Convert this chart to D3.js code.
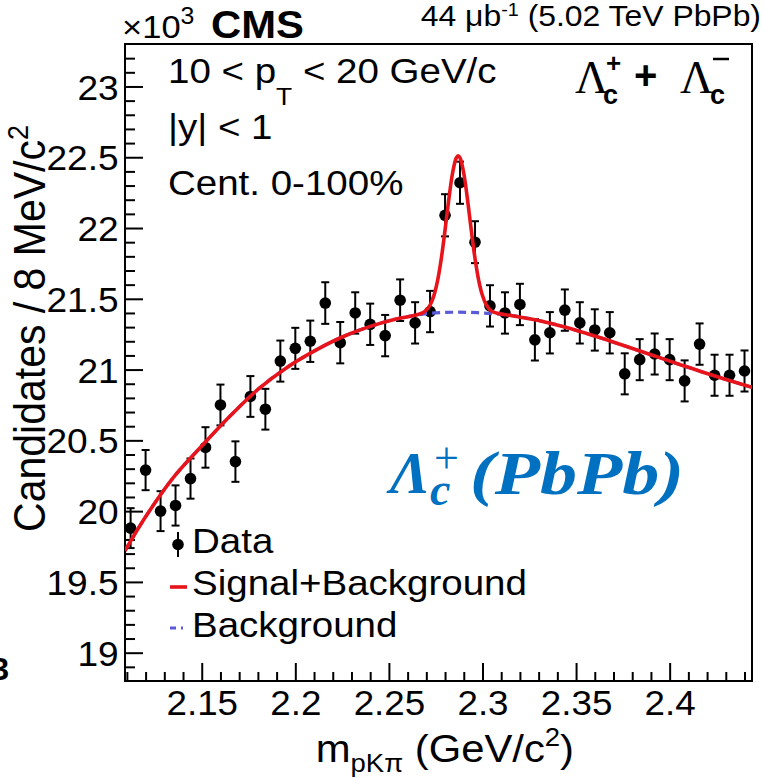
<!DOCTYPE html>
<html><head><meta charset="utf-8">
<script src="https://cdn.jsdelivr.net/npm/d3@7"></script>
<style>html,body{margin:0;padding:0;background:#fff;} svg{display:block}</style>
</head><body>
<script>
// ---------- data (values in units of 10^3 candidates) ----------
const massCenters = [2.112, 2.120, 2.128, 2.136, 2.144, 2.152, 2.160, 2.168, 2.176, 2.184,
  2.192, 2.200, 2.208, 2.216, 2.224, 2.232, 2.240, 2.248, 2.256, 2.264,
  2.272, 2.280, 2.288, 2.296, 2.304, 2.312, 2.320, 2.328, 2.336, 2.344,
  2.352, 2.360, 2.368, 2.376, 2.384, 2.392, 2.400, 2.408, 2.416, 2.424,
  2.432, 2.440];
const candidates = [19.88, 20.29, 20.00, 20.04, 20.23, 20.45, 20.75, 20.35, 20.81, 20.72,
  21.06, 21.15, 21.20, 21.47, 21.19, 21.40, 21.32, 21.24, 21.49, 21.33,
  21.41, 22.09, 22.32, 21.90, 21.45, 21.40, 21.46, 21.21, 21.26, 21.42,
  21.33, 21.28, 21.26, 20.97, 21.07, 21.11, 21.07, 20.92, 21.18, 20.96,
  20.96, 20.99];
const errors = [0.141, 0.142, 0.141, 0.142, 0.142, 0.143, 0.144, 0.143, 0.144, 0.144,
  0.145, 0.145, 0.146, 0.147, 0.146, 0.146, 0.146, 0.146, 0.147, 0.146,
  0.146, 0.149, 0.149, 0.148, 0.146, 0.146, 0.146, 0.146, 0.146, 0.146,
  0.146, 0.146, 0.146, 0.145, 0.145, 0.145, 0.145, 0.145, 0.146, 0.145,
  0.145, 0.145];

// Signal+Background fit curve
const fitMass = [2.109, 2.120, 2.135, 2.150, 2.165, 2.180, 2.195, 2.210, 2.225, 2.240, 2.255, 2.264,
  2.266, 2.268, 2.270, 2.272, 2.274, 2.276, 2.278, 2.280, 2.282, 2.284, 2.286, 2.287, 2.288,
  2.290, 2.292, 2.294, 2.296, 2.298, 2.300, 2.302, 2.304, 2.306, 2.308,
  2.315, 2.330, 2.345, 2.360, 2.375, 2.390, 2.405, 2.420, 2.435, 2.444];
const fitTotal = [19.72, 19.96, 20.24, 20.46, 20.67, 20.86, 21.01, 21.13, 21.23, 21.305, 21.36, 21.383,
  21.392, 21.401, 21.421, 21.456, 21.521, 21.628, 21.785, 21.986, 22.201, 22.387, 22.496, 22.510, 22.496,
  22.387, 22.201, 21.986, 21.786, 21.629, 21.523, 21.458, 21.423, 21.405, 21.397,
  21.383, 21.347, 21.297, 21.237, 21.172, 21.105, 21.038, 20.972, 20.910, 20.875];

// Background-only fit curve
const bgMass = [2.109, 2.120, 2.135, 2.150, 2.165, 2.180, 2.195, 2.210, 2.225, 2.240, 2.255, 2.270,
  2.285, 2.300, 2.315, 2.330, 2.345, 2.360, 2.375, 2.390, 2.405, 2.420, 2.435, 2.444];
const bgValues = [19.72, 19.96, 20.24, 20.46, 20.67, 20.86, 21.01, 21.13, 21.23, 21.305, 21.36, 21.395,
  21.405, 21.40, 21.383, 21.347, 21.297, 21.237, 21.172, 21.105, 21.038, 20.972, 20.910, 20.875];

const xDomain = [2.109, 2.444];
const yDomain = [18.8, 23.3];
const xTicks = [2.15, 2.2, 2.25, 2.3, 2.35, 2.4];
const xTickLabels = ["2.15", "2.2", "2.25", "2.3", "2.35", "2.4"];
const yTicks = [19, 19.5, 20, 20.5, 21, 21.5, 22, 22.5, 23];
const yTickLabels = ["19", "19.5", "20", "20.5", "21", "21.5", "22", "22.5", "23"];
const legendLabels = ["Data", "Signal+Background", "Background"];

// ---------- drawing ----------
const W = 763, H = 778;
const SANS = "'Liberation Sans', Arial, Helvetica, sans-serif";
const SERIF = "'Liberation Serif', 'Times New Roman', serif";
const SX = 1.1; // horizontal stretch of the original text
const RED = "#e8141b", BLUE = "#5b5bd8", INK = "#000";

const svg = d3.select("body").append("svg")
  .attr("width", W).attr("height", H)
  .style("font-family", SANS);
svg.append("rect").attr("width", W).attr("height", H).attr("fill", "#fff");

const P = {left: 125, right: 752, top: 44, bottom: 681};
const x = d3.scaleLinear().domain(xDomain).range([P.left, P.right]);
const y = d3.scaleLinear().domain(yDomain).range([P.bottom, P.top]);

function txt(px, py, size, anchor, sx, rot) {
  return svg.append("text")
    .attr("transform", `translate(${px},${py}) scale(${sx === undefined ? SX : sx},1)` + (rot ? ` rotate(${rot})` : ""))
    .attr("text-anchor", anchor || "start")
    .attr("font-size", size)
    .attr("fill", INK);
}

// clip
svg.append("clipPath").attr("id", "clip").append("rect")
  .attr("x", P.left).attr("y", P.top).attr("width", P.right - P.left).attr("height", P.bottom - P.top);

// axes: ticks pointing inward
const isMajorX = v => xTicks.some(t => Math.abs(t - v) < 1e-6);
const isMajorY = v => yTicks.some(t => Math.abs(t - v) < 1e-6);
const xMinor = x.ticks(40).filter(v => !isMajorX(v) && x(v) > P.left + 1 && x(v) < P.right - 1);
const yMinor = y.ticks(45).filter(v => !isMajorY(v) && y(v) < P.bottom - 1 && y(v) > P.top + 1);

const gx = svg.append("g").attr("transform", `translate(0,${P.bottom})`);
gx.call(d3.axisBottom(x).tickValues(xTicks).tickFormat((d, i) => xTickLabels[i])
  .tickSizeInner(-18).tickSizeOuter(0).tickPadding(0));
gx.append("g").call(d3.axisBottom(x).tickValues(xMinor).tickFormat("").tickSizeInner(-9).tickSizeOuter(0));
gx.selectAll(".domain").remove();
gx.selectAll("line").attr("stroke", INK).attr("stroke-width", 2);
gx.selectAll("text").attr("font-family", SANS).attr("font-size", 35).attr("fill", INK)
  .attr("x", 0).attr("y", 34).attr("dy", 0).attr("transform", "scale(1.05,1)");

const gy = svg.append("g").attr("transform", `translate(${P.left},0)`);
gy.call(d3.axisLeft(y).tickValues(yTicks).tickFormat((d, i) => yTickLabels[i])
  .tickSizeInner(-18).tickSizeOuter(0).tickPadding(0));
gy.append("g").call(d3.axisLeft(y).tickValues(yMinor).tickFormat("").tickSizeInner(-10).tickSizeOuter(0));
gy.selectAll(".domain").remove();
gy.selectAll("line").attr("stroke", INK).attr("stroke-width", 2);
gy.selectAll("text").attr("font-family", SANS).attr("font-size", 35).attr("fill", INK)
  .attr("x", -6).attr("dy", "0.36em").attr("text-anchor", "end")
  .attr("transform", "scale(1.06,1)");

// frame
svg.append("rect").attr("x", P.left).attr("y", P.top)
  .attr("width", P.right - P.left).attr("height", P.bottom - P.top)
  .attr("fill", "none").attr("stroke", INK).attr("stroke-width", 2);

// data points with error bars
const gd = svg.append("g");
massCenters.forEach((m, i) => {
  const cx = x(m), v = candidates[i], e = errors[i];
  gd.append("line").attr("x1", cx).attr("x2", cx).attr("y1", y(v - e)).attr("y2", y(v + e))
    .attr("stroke", INK).attr("stroke-width", 2);
  [v - e, v + e].forEach(b => gd.append("line").attr("x1", cx - 4).attr("x2", cx + 4)
    .attr("y1", y(b)).attr("y2", y(b)).attr("stroke", INK).attr("stroke-width", 2));
  gd.append("circle").attr("cx", cx).attr("cy", y(v)).attr("r", 5.8).attr("fill", INK);
});

// fit curves
const lineGen = d3.line().x(d => x(d[0])).y(d => y(d[1])).curve(d3.curveCatmullRom.alpha(0.5));
const gc = svg.append("g").attr("clip-path", "url(#clip)");
gc.append("path").datum(bgMass.map((m, i) => [m, bgValues[i]]))
  .attr("d", lineGen).attr("fill", "none").attr("stroke", BLUE).attr("stroke-width", 3.2)
  .attr("stroke-dasharray", "8,5");
gc.append("path").datum(fitMass.map((m, i) => [m, fitTotal[i]]))
  .attr("d", lineGen).attr("fill", "none").attr("stroke", RED).attr("stroke-width", 3.6)
  .attr("stroke-linejoin", "round");

// ---------- header ----------
const h1 = txt(122, 38, 32, "start", 1.08);
h1.append("tspan").text("×10");
h1.append("tspan").attr("font-size", 23).attr("dy", -14).text("3");
txt(211, 38, 38, "start", 1.1).attr("font-weight", "bold").text("CMS");

const h2 = txt(761, 26, 29, "end", 1.1);
h2.append("tspan").text("44 μb");
h2.append("tspan").attr("font-size", 18).attr("dy", -10).text("-1");
h2.append("tspan").attr("dy", 10).text(" (5.02 TeV PbPb)");

// ---------- info text ----------
const t1 = txt(168, 83, 35, "start");
t1.append("tspan").text("10 < p");
t1.append("tspan").attr("font-size", 24).attr("dy", 22).text("T");
t1.append("tspan").attr("dy", -22).text(" < 20 GeV/c");
txt(168, 139, 35, "start").text("|y| < 1");
txt(168, 195, 35, "start").text("Cent. 0-100%");

// Λc+ + Λc−
txt(575, 93, 46, "start", 1.0).attr("font-family", SERIF).text("Λ");
txt(603, 104, 27, "start", 1.0).attr("font-weight", "bold").text("c");
txt(606, 72, 26, "start", 1.0).attr("font-weight", "bold").text("+");
txt(634, 89, 40, "start", 1.0).attr("font-weight", "bold").text("+");
txt(680, 93, 46, "start", 1.0).attr("font-family", SERIF).text("Λ");
txt(710, 104, 27, "start", 1.0).attr("font-weight", "bold").text("c");
svg.append("line").attr("x1", 713).attr("x2", 729).attr("y1", 59).attr("y2", 59)
  .attr("stroke", INK).attr("stroke-width", 2.5);

// blue annotation
const BLU = "#0070c0";
txt(390, 493, 60, "start", 1.0).attr("font-family", SERIF).attr("font-weight", "bold").attr("font-style", "italic")
  .attr("fill", BLU).text("Λ");
txt(430, 505, 46, "start", 1.0).attr("font-family", SERIF).attr("font-weight", "bold").attr("font-style", "italic")
  .attr("fill", BLU).text("c");
txt(434, 473, 44, "start", 1.0).attr("font-family", SERIF).attr("fill", BLU).text("+");
txt(470, 494, 62, "start", 1.0).attr("font-family", SERIF).attr("font-weight", "bold").attr("font-style", "italic")
  .attr("fill", BLU).attr("textLength", 214).attr("lengthAdjust", "spacingAndGlyphs").text("(PbPb)");

// ---------- legend ----------
const lg = svg.append("g");
lg.append("line").attr("x1", 178).attr("x2", 178).attr("y1", 532).attr("y2", 557).attr("stroke", INK).attr("stroke-width", 2);
lg.append("circle").attr("cx", 178).attr("cy", 544.5).attr("r", 5.8).attr("fill", INK);
lg.append("line").attr("x1", 170).attr("x2", 187).attr("y1", 587).attr("y2", 587).attr("stroke", RED).attr("stroke-width", 3.6);
lg.append("line").attr("x1", 170).attr("x2", 188).attr("y1", 628).attr("y2", 628).attr("stroke", BLUE).attr("stroke-width", 3)
  .attr("stroke-dasharray", "6,5,2,5");
txt(192, 553, 35, "start").text(legendLabels[0]);
txt(192, 595, 35, "start").text(legendLabels[1]);
txt(192, 637, 35, "start").text(legendLabels[2]);

// ---------- axis titles ----------
const xt = txt(574, 762, 38, "end");
xt.append("tspan").text("m");
xt.append("tspan").attr("font-size", 25).attr("dy", 10).text("pKπ");
xt.append("tspan").attr("dy", -10).text(" (GeV/c");
xt.append("tspan").attr("font-size", 25).attr("dy", -16).text("2");
xt.append("tspan").attr("dy", 16).text(")");

const yt = svg.append("text")
  .attr("transform", "translate(45,125) scale(1.09,1) rotate(-90)")
  .attr("text-anchor", "end").attr("font-size", 41).attr("fill", INK);
yt.append("tspan").text("Candidates / 8 MeV/c");
yt.append("tspan").attr("font-size", 27).attr("dy", -16).text("2");

// stray glyph at lower left edge (partly outside the picture, as in the original)
txt(9, 680, 32, "end", 1.0).attr("font-weight", "bold").text("3");
</script>
</body></html>
